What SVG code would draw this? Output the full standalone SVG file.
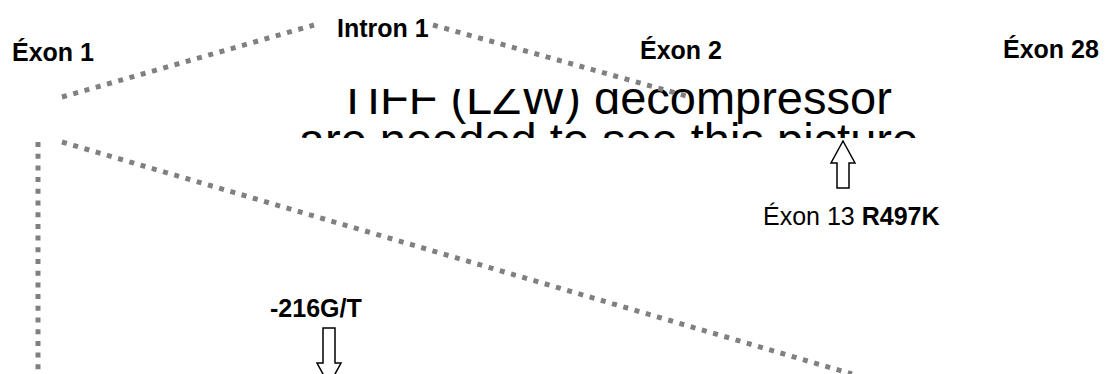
<svg xmlns="http://www.w3.org/2000/svg" width="1110" height="374" viewBox="0 0 1110 374">
  <style>
    .lbl { font-family: "Liberation Sans", Arial, sans-serif; font-size: 25px; font-weight: bold; fill: #000; }
    .reg { font-family: "Liberation Sans", Arial, sans-serif; font-size: 25px; fill: #000; }
    .ph { font-family: "Liberation Sans", Arial, sans-serif; font-size: 47px; fill: #000; }
    .dot { fill: none; stroke: #808080; stroke-width: 5; stroke-dasharray: 5 6.7; }
    .blk { fill: #fff; stroke: #000; stroke-width: 1.5; stroke-linejoin: miter; }
  </style>
  <defs>
    <clipPath id="frame">
      <rect x="0" y="89" width="1110" height="49"/>
    </clipPath>
  </defs>
  <rect width="1110" height="374" fill="#fff"/>

  <!-- embedded picture placeholder, cropped by its frame -->
  <g id="picture" clip-path="url(#frame)">
    <text class="ph" x="615" y="114" text-anchor="middle">TIFF (LZW) decompressor</text>
    <text class="ph" x="615" y="156" text-anchor="middle">are needed to see this picture.</text>
  </g>

  <!-- dotted zoom-out lines and marker arrows -->
  <g id="connectors">
    <line class="dot" x1="62" y1="97" x2="314" y2="25"/>
    <line class="dot" x1="433" y1="25" x2="690" y2="97"/>
    <line class="dot" x1="62" y1="142" x2="852" y2="374"/>
    <line class="dot" x1="38" y1="142" x2="38" y2="374"/>
    <polygon class="blk" points="843,141 855,163 849,163 849,188 837,188 837,163 831,163"/>
    <polygon class="blk" points="323,328 335,328 335,363 341,363 329,385 317,363 323,363"/>
  </g>

  <g id="exon1"><text class="lbl" x="12" y="61">Éxon 1</text></g>
  <g id="intron1"><text class="lbl" x="337" y="37">Intron 1</text></g>
  <g id="exon2"><text class="lbl" x="640" y="59">Éxon 2</text></g>
  <g id="exon28"><text class="lbl" x="1003" y="58">Éxon 28</text></g>
  <g id="exon13"><text class="reg" x="763" y="225">Éxon 13 <tspan font-weight="bold">R497K</tspan></text></g>
  <g id="promoter"><text class="lbl" x="270" y="317">-216G/T</text></g>
</svg>
